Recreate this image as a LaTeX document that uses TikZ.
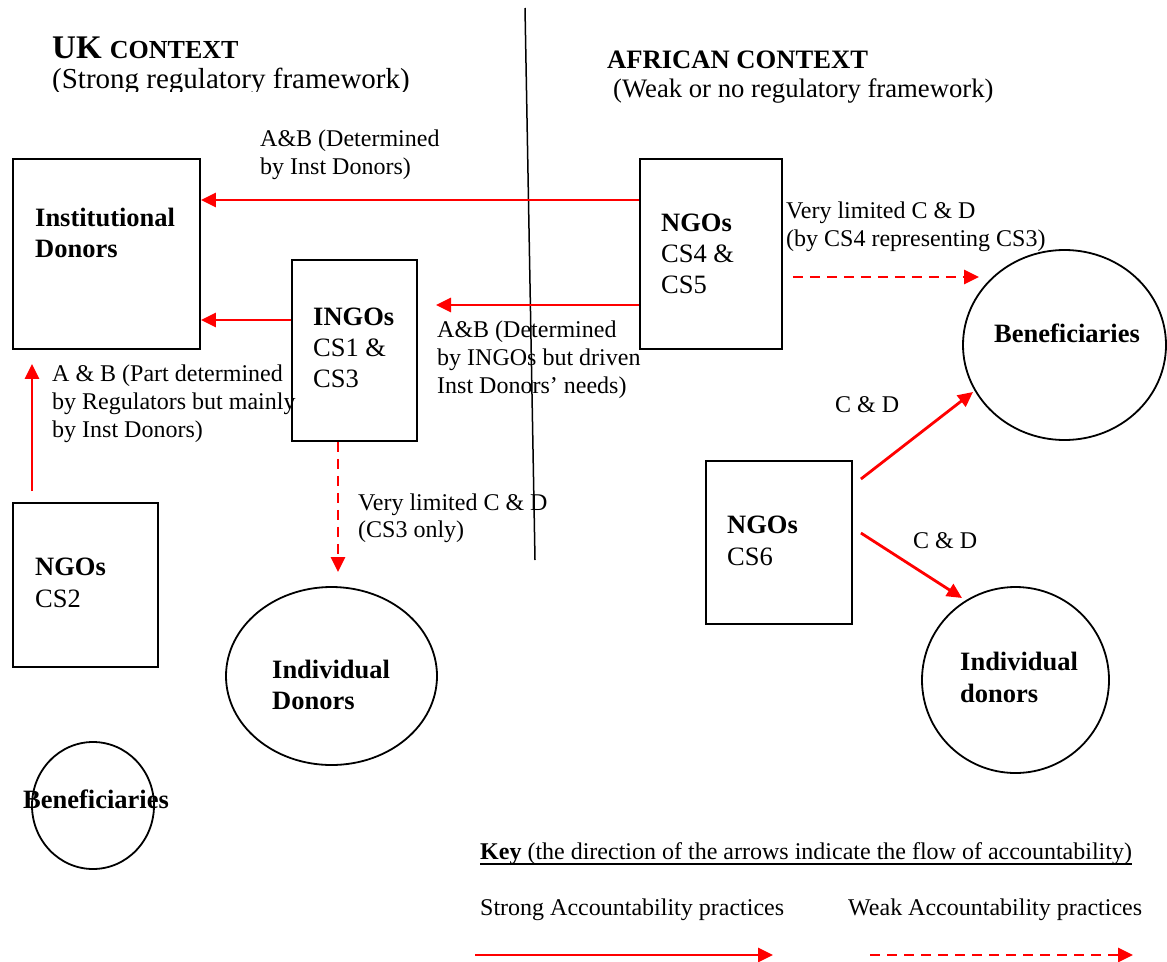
\documentclass[tikz,border=0pt]{standalone}
\usepackage{fontspec}
\setmainfont{Liberation Serif}
\usetikzlibrary{arrows.meta,shapes.geometric}

% multi-line labels are anchored at the baseline of their last line
\tikzset{
  box/.style={draw, line width=1.8pt, rectangle, inner sep=0pt},
  ring/.style={draw, line width=1.8pt, ellipse, inner sep=0pt},
  lbl/.style={inner sep=0pt, anchor=base west, align=left,
              font=\fontsize{24}{27.8}\selectfont},
  boxlbl/.style={inner sep=0pt, anchor=base west, align=left,
              font=\fontsize{26.5}{31}\selectfont},
  boldlbl/.style={boxlbl, font=\fontsize{26.5}{31}\selectfont\bfseries},
  strong/.style={draw=red, line width=2.8pt,
              -{Triangle[length=15pt,width=14pt]}},
  weak/.style={strong, dash pattern=on 10pt off 7pt},
}

\begin{document}
\begin{tikzpicture}[x=1pt, y=-1pt]
\useasboundingbox (0,0) rectangle (1167,961);

% dividing line between the two contexts
\coordinate (divtop) at (525,8);
\coordinate (divbot) at (535,560);
\draw[line width=1.5pt] (divtop) -- (divbot);

% headings
\node[lbl] (ukhead) at (52,58)
  {\fontsize{33}{38}\selectfont\bfseries UK \fontsize{26}{30}\selectfont CONTEXT};
\begin{scope}
  \clip (40,60) rectangle (440,91.5);
  \node[lbl, font=\fontsize{29}{34}\selectfont] (uksub) at (52,88)
    {(Strong regulatory framework)};
\end{scope}
\node[lbl, font=\fontsize{26.6}{31}\selectfont\bfseries] (afhead) at (607,68)
  {AFRICAN CONTEXT};
\node[lbl, font=\fontsize{26.7}{31}\selectfont] (afsub) at (613,97)
  {(Weak or no regulatory framework)};

% organisations
\node[box, minimum width=187pt, minimum height=190pt] (inst) at (106.5,254) {};
\node[boldlbl] (insttxt) at (35,257) {Institutional\\Donors};

\node[box, minimum width=125pt, minimum height=181pt] (ingo) at (354.5,350.5) {};
\node[boxlbl] (ingotxt) at (313,387) {\textbf{INGOs}\\CS1 \&\\CS3};

\node[box, minimum width=142pt, minimum height=190pt] (ngo45) at (711,254) {};
\node[boxlbl] (ngo45txt) at (661,293) {\textbf{NGOs}\\CS4 \&\\CS5};

\node[box, minimum width=146pt, minimum height=163pt] (ngo6) at (779,542.5) {};
\node[boxlbl, font=\fontsize{26.5}{32}\selectfont] (ngo6txt) at (727,565) {\textbf{NGOs}\\CS6};

\node[box, minimum width=145pt, minimum height=164pt] (ngo2) at (85.5,585) {};
\node[boxlbl, font=\fontsize{26.5}{32}\selectfont] (ngo2txt) at (35,607) {\textbf{NGOs}\\CS2};

% stakeholders
\node[ring, minimum width=203pt, minimum height=190pt] (benR) at (1064.5,345) {};
\node[boldlbl] (benRtxt) at (994,342) {Beneficiaries};

\node[ring, minimum width=187pt, minimum height=186pt] (inddR) at (1015.5,680) {};
\node[boldlbl, font=\fontsize{26.5}{32}\selectfont\bfseries] (inddRtxt) at (960,702)
  {Individual\\donors};

\node[ring, minimum width=211pt, minimum height=178pt] (inddL) at (331.5,676) {};
\node[boldlbl] (inddLtxt) at (272,709) {Individual\\Donors};

\node[ring, minimum width=122pt, minimum height=127pt] (benL) at (93,805.5) {};
\node[boldlbl] (benLtxt) at (23,808) {Beneficiaries};

% accountability flows
\draw[strong] ([yshift=54pt]ngo45.west) -- ([yshift=54pt]inst.east);
\draw[strong] ([yshift=30.5pt]ingo.west) -- ([yshift=-66pt]inst.east);
\coordinate (ingoend) at (436,305);
\draw[strong] (ngo45.west |- ingoend) -- (ingoend);
\draw[strong] ([shift={(-53.5pt,11pt)}]ngo2.north) -- ([shift={(-74.5pt,-14pt)}]inst.south);
\draw[weak] ([xshift=-16.5pt]ingo.south) -- ([shift={(6.5pt,14pt)}]inddL.north);
\draw[weak] ([shift={(10pt,-23pt)}]ngo45.east) -- ([shift={(17pt,68pt)}]benR.west);
\draw[strong] ([shift={(8pt,63.5pt)}]ngo6.east) -- ([shift={(-91.5pt,-47pt)}]benR.center);
\draw[strong] ([shift={(8pt,9.5pt)}]ngo6.east) -- ([shift={(-53.5pt,82pt)}]inddR.center);

% flow labels
\node[lbl] (l1) at (260,174) {A\&B (Determined\\by Inst Donors)};
\node[lbl] (l2) at (437,393) {A\&B (Determined\\by INGOs but driven\\Inst Donors’ needs)};
\node[lbl] (l3) at (52,437) {A \& B (Part determined\\by Regulators but mainly\\by Inst Donors)};
\node[lbl, font=\fontsize{24}{27}\selectfont] (l4) at (358,537) {Very limited C \& D\\(CS3 only)};
\node[lbl] (l5) at (786,246) {Very limited C \& D\\(by CS4 representing CS3)};
\node[lbl] (l6) at (835,412) {C \& D};
\node[lbl] (l7) at (913,548) {C \& D};

% key
\node[lbl] (key) at (480,859)
  {\textbf{Key} (the direction of the arrows indicate the flow of accountability)};
\draw[line width=1.2pt] ([yshift=-5pt]key.base west) -- ([yshift=-5pt]key.base east);
\node[lbl] (keys) at (480,915) {Strong Accountability practices};
\node[lbl] (keyw) at (848,915) {Weak Accountability practices};
\coordinate (ks1) at (475,955);
\coordinate (ks2) at (773,955);
\coordinate (kw1) at (870,955);
\coordinate (kw2) at (1133,955);
\draw[strong] (ks1) -- (ks2);
\draw[weak] (kw1) -- (kw2);
\end{tikzpicture}
\end{document}
